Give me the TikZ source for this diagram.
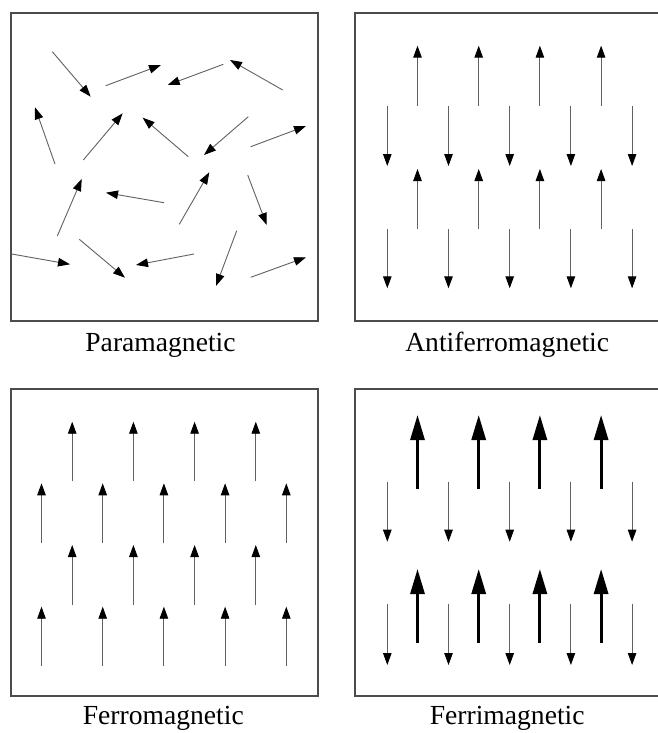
\documentclass[tikz,border=0pt]{standalone}
\usepackage{fontspec}
\setmainfont{Liberation Serif}
\usetikzlibrary{arrows.meta}
\begin{document}
\begin{tikzpicture}[x=1pt,y=-1pt,
  spin/.style={draw=black!62, line width=0.9pt, -{Triangle[length=12pt,width=8.5pt,color=black]}},
  bigspin/.style={draw=black, line width=3pt, -{Triangle[length=25pt,width=14pt]}},
  frame/.style={draw=black!70, line width=1.6pt},
  caption/.style={font=\fontsize{27.6}{30}\selectfont, anchor=base, inner sep=0pt}]
\useasboundingbox (0,0) rectangle (657,733);
\fill[white] (0,0) rectangle (657,733);
% frames
\draw[frame] (11,13) rectangle (318,321);
\draw[frame] (665,13) -- (355,13) -- (355,321) -- (665,321);
\draw[frame] (11,389) rectangle (318,696);
\draw[frame] (665,389) -- (355,389) -- (355,696) -- (665,696);
% paramagnetic
\foreach \a/\b/\c/\d in {
  52.3/51.7/90.7/96.7,
  105.7/85.7/161/65,
  223.3/64.3/167.7/85,
  282.7/90/230/60,
  55/164/35/107.3,
  83.3/160/122.7/113.3,
  188.3/156.7/142.7/117.7,
  248.3/116.7/204/155,
  250.7/146.7/306/126,
  57.3/236/81.7/179,
  164/202.7/106/192.7,
  179.3/224.3/209.3/172.3,
  247.7/175/266.7/225,
  11.7/254/70/264.3,
  79.3/239.3/125/277.7,
  194/254/136/265,
  236.7/230.7/216/286,
  250.7/277.3/306/257.3}
  \draw[spin] (\a,\b) -- (\c,\d);
% antiferromagnetic
\foreach \i in {0,...,3} {
  \draw[spin] (417.5+61.2*\i,106) -- (417.5+61.2*\i,45.7);
  \draw[spin] (417.5+61.2*\i,229) -- (417.5+61.2*\i,169);
}
\foreach \i in {0,...,4} {
  \draw[spin] (387.3+61.2*\i,106) -- (387.3+61.2*\i,166);
  \draw[spin] (387.3+61.2*\i,229) -- (387.3+61.2*\i,288.3);
}
% ferromagnetic
\foreach \i in {0,...,3} {
  \draw[spin] (72.2+61.2*\i,481) -- (72.2+61.2*\i,421.7);
  \draw[spin] (72.2+61.2*\i,605) -- (72.2+61.2*\i,545);
}
\foreach \i in {0,...,4} {
  \draw[spin] (41.5+61.2*\i,543.3) -- (41.5+61.2*\i,483.3);
  \draw[spin] (41.5+61.2*\i,666) -- (41.5+61.2*\i,606.7);
}
% ferrimagnetic
\foreach \i in {0,...,3} {
  \draw[bigspin] (417.5+61.2*\i,489) -- (417.5+61.2*\i,415);
  \draw[bigspin] (417.5+61.2*\i,642.7) -- (417.5+61.2*\i,569);
}
\foreach \i in {0,...,4} {
  \draw[spin] (387.3+61.2*\i,481.7) -- (387.3+61.2*\i,541.7);
  \draw[spin] (387.3+61.2*\i,604.3) -- (387.3+61.2*\i,665);
}
% captions
\node[caption] (para) at (160.5,351) {Paramagnetic};
\node[caption] (anti) at (507.2,351) {Antiferromagnetic};
\node[caption] (ferro) at (163.3,724.5) {Ferromagnetic};
\node[caption] (ferri) at (507.2,724.5) {Ferrimagnetic};
\end{tikzpicture}
\end{document}
